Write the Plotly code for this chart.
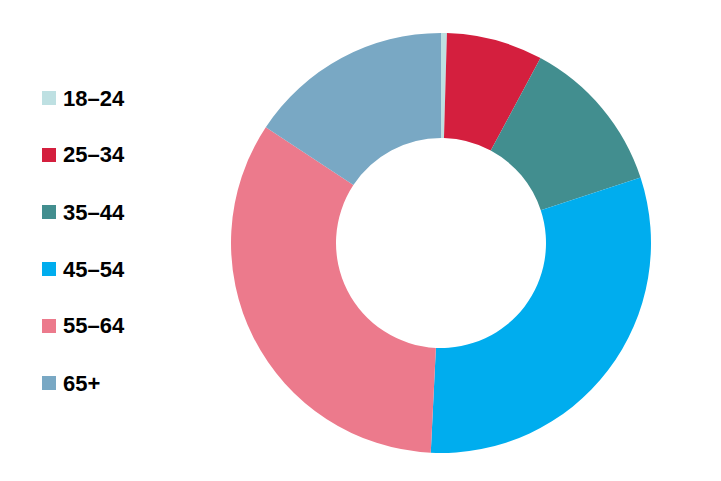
import plotly.graph_objects as go

labels = ["18–24", "25–34", "35–44", "45–54", "55–64", "65+"]
values = [0.45, 7.4, 12.1, 30.8, 33.5, 15.7]
colors = ["#BEE0E2", "#D41F3E", "#428E8F", "#00ADEE", "#EC7A8C", "#79A8C4"]

W, H = 721, 481
OFF = 8  # page body margin offset
cx, cy, R = 441 - OFF, 243 - OFF, 210

fig = go.Figure()
fig.add_trace(go.Pie(
    labels=labels, values=values, hole=0.5, sort=False, direction="clockwise",
    rotation=0, marker=dict(colors=colors, line=dict(width=0)),
    textinfo="none", hoverinfo="label+percent", showlegend=False,
    domain=dict(x=[(cx - R) / W, (cx + R) / W], y=[(H - cy - R) / H, (H - cy + R) / H]),
))

# legend drawn as shapes + annotations
y0 = 98 - OFF
gap = 57
for i, (lab, col) in enumerate(zip(labels, colors)):
    yc = y0 + i * gap
    fig.add_shape(type="rect", xref="paper", yref="paper",
                  x0=(42 - OFF) / W, x1=(56 - OFF) / W, y0=(H - yc - 7) / H, y1=(H - yc + 7) / H,
                  fillcolor=col, line=dict(width=0))
    fig.add_annotation(x=(61 - OFF) / W, y=(H - yc) / H, xref="paper", yref="paper",
                       text=f"<b>{lab}</b>", showarrow=False, xanchor="left", yanchor="middle",
                       font=dict(family="Liberation Sans, Arial, sans-serif", size=22, color="#000000"))

fig.update_layout(width=W, height=H, margin=dict(l=0, r=0, t=0, b=0),
                  paper_bgcolor="white", plot_bgcolor="white")
fig.write_html("out.html")
